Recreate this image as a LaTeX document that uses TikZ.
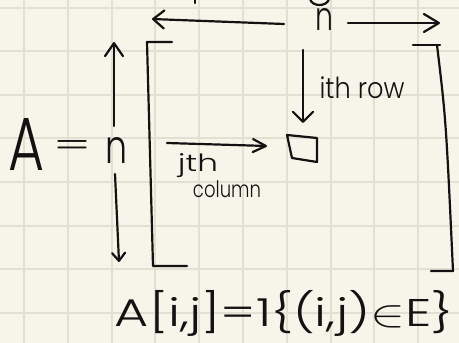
\documentclass[tikz,border=0pt]{standalone}
\usepackage{fontspec}
\setmainfont{DejaVu Sans}
\newfontfamily\hand{Poppins Light}
\usepackage{graphicx}
\usetikzlibrary{arrows.meta}
\definecolor{paper}{HTML}{F7F5EA}
\definecolor{gridc}{HTML}{E2E0D3}
\definecolor{ink}{HTML}{121212}
\tikzset{
  ink/.style={draw=ink, line width=2.2pt, line cap=round, line join=round},
  barb/.style={-{Straight Barb[length=#1, width=18pt, line width=2.2pt, round]}},
  txt/.style={inner sep=0pt, outer sep=0pt, text=ink, font=\hand},
}
\begin{document}
\begin{tikzpicture}[x=1pt, y=-1pt]
\useasboundingbox (0,0) rectangle (459,343);
\fill[paper] (0,0) rectangle (459,343);
\foreach \i in {0,...,9} {\draw[gridc, line width=2pt] ({24+43.8*\i},0) -- ++(0,343);}
\foreach \j in {0,...,7} {\draw[gridc, line width=2pt] (0,{7.5+43.6*\j}) -- ++(459,0);}

% cut-off marks at the top edge
\draw[ink] (310,-1) .. controls (312,7) and (327,7) .. (329,-1);
\draw[ink] (195,-1) -- (195,3);

% labels
\node[txt] (A) at (27,144) {\resizebox*{36pt}{52pt}{A}};
\node[txt] (eq) at (73,148) {\resizebox*{38pt}{16pt}{=}};
\node[txt] (nl) at (117,150) {\resizebox*{22pt}{26pt}{n}};
\node[txt] (nt) at (325,19) {\resizebox*{18pt}{22pt}{n}};
\node[txt] (row) at (362,88) {\resizebox*{85pt}{22pt}{ith row}};
\node[txt] (jth) at (198,166) {\resizebox*{40pt}{24pt}{jth}};
\node[txt] (col) at (227,189) {\resizebox*{68pt}{17pt}{column}};
\node[txt] (f) at (284,313) {\resizebox*{338pt}{46pt}{A[i,j]=1\{(i,j)$\in$E\}}};

% coordinates
\coordinate (tl) at (152,19);
\coordinate (tr) at (440,23);
\coordinate (vt) at (114,42);
\coordinate (vb) at (119,262);
\coordinate (rowtop) at (303,50);
\coordinate (rowend) at (303,123);
\coordinate (colstart) at (167,143);
\coordinate (colend) at (267,146);

% n arrows
\draw[ink, barb=11pt] (nt.west) ++(-32,5) -- (tl);
\draw[ink, barb=15pt] (nt.east) ++(14,4) -- (tr);
\draw[ink, barb=13pt] (nl.north) ++(-3,-11) -- (vt);
\draw[ink, -{Straight Barb[length=8pt, width=13pt, line width=2.2pt, round]}] (nl.south) ++(-2,11) -- (vb);

% row and column arrows
\draw[ink, -{Straight Barb[length=10pt, width=20pt, line width=2.2pt, round]}] (rowtop) -- (rowend);
\draw[ink, -{Straight Barb[length=13pt, width=13pt, line width=2.2pt, round]}] (colstart) -- (colend);

% entry square
\draw[ink] (287,135) -- (317,138) -- (317,162) -- (292,158) -- cycle;

% brackets
\draw[ink] (172,42) -- (147,42) -- (153,266) -- (187,266);
\draw[ink] (413,45) -- (440,45);
\draw[ink] (437,45) .. controls (446,120) .. (453,271) -- (431,271);
\end{tikzpicture}
\end{document}
